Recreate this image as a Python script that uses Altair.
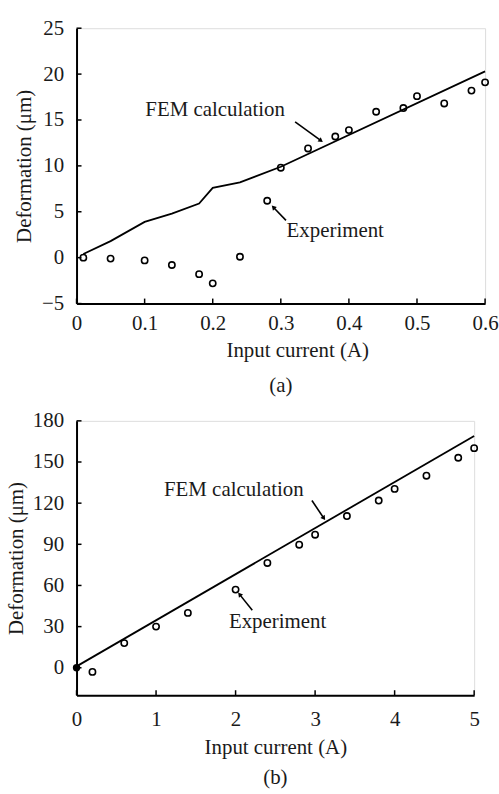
import altair as alt
import pandas as pd

FONT = "Liberation Serif"
INK = "#1a1a1a"

# ---------- panel (a) ----------
a_exp_x = [0.01, 0.05, 0.10, 0.14, 0.18, 0.20, 0.24, 0.28, 0.30, 0.34, 0.38, 0.40, 0.44, 0.48, 0.50, 0.54, 0.58, 0.60]
a_exp_y = [0.0, -0.1, -0.3, -0.8, -1.8, -2.8, 0.1, 6.2, 9.8, 11.9, 13.2, 13.9, 15.9, 16.3, 17.6, 16.8, 18.2, 19.1]
a_fem_x = [0.01, 0.05, 0.10, 0.14, 0.18, 0.20, 0.24, 0.30, 0.60]
a_fem_y = [0.4, 1.8, 3.9, 4.8, 5.9, 7.6, 8.2, 9.9, 20.3]
a_xticks = [0, 0.1, 0.2, 0.3, 0.4, 0.5, 0.6]
a_yticks = [-5, 0, 5, 10, 15, 20, 25]
a_labels = ["FEM calculation", "Experiment"]
a_label_x = [0.101, 0.3085]
a_label_y = [15.4, 2.3]
a_arrow_x = [0.321, 0.3076]
a_arrow_y = [14.8, 4.06]
a_arrow_x2 = [0.359, 0.289]
a_arrow_y2 = [12.75, 5.5]
a_arrow_ang = [126.6, 317.0]

# ---------- panel (b) ----------
b_exp_x = [0.2, 0.6, 1.0, 1.4, 2.0, 2.4, 2.8, 3.0, 3.4, 3.8, 4.0, 4.4, 4.8, 5.0]
b_exp_y = [-3, 18, 30, 40, 57, 76.4, 89.7, 97, 110.6, 121.9, 130.4, 140, 153.1, 160.1]
b_origin_x = [0]
b_origin_y = [0]
b_fem_x = [0, 5]
b_fem_y = [1, 169]
b_xticks = [0, 1, 2, 3, 4, 5]
b_yticks = [0, 30, 60, 90, 120, 150, 180]
b_labels = ["FEM calculation", "Experiment"]
b_label_x = [1.10, 1.916]
b_label_y = [125.5, 29.2]
b_arrow_x = [2.96, 2.21]
b_arrow_y = [121.9, 41.9]
b_arrow_x2 = [3.11, 2.05]
b_arrow_y2 = [109.0, 53.5]
b_arrow_ang = [145.0, 320.7]


def panel(exp_x, exp_y, fem_x, fem_y, xticks, yticks, xdom, ydom,
          labels, lx, ly, ax, ay, ax2, ay2, aang, caption,
          W, H, x_label_pad, x_title_pad, x_title_x, y_title_pad, cap_offset,
          origin=None):
    xs = alt.Scale(domain=xdom, nice=False, zero=False)
    ys = alt.Scale(domain=ydom, nice=False, zero=False)
    xaxis = alt.Axis(title="Input current (A)", values=xticks, format="~f",
                     ticks=False, grid=False, domainColor="black", domainWidth=2,
                     labelFont=FONT, labelFontSize=21, labelColor=INK,
                     labelPadding=x_label_pad, titleFont=FONT, titleFontSize=21,
                     titleFontWeight="normal", titleColor=INK,
                     titlePadding=x_title_pad, titleX=x_title_x, labelFlush=False)
    yaxis = alt.Axis(title="Deformation (μm)", values=yticks, format="~f",
                     ticks=False, grid=False, domainColor="black", domainWidth=2,
                     labelFont=FONT, labelFontSize=21, labelColor=INK,
                     labelPadding=13, titleFont=FONT, titleFontSize=21,
                     titleFontWeight="normal", titleColor=INK,
                     titlePadding=y_title_pad, labelFlush=False)

    def X(f="x"):
        return alt.X(f"{f}:Q", scale=xs, axis=xaxis)

    def Y(f="y"):
        return alt.Y(f"{f}:Q", scale=ys, axis=yaxis)

    exp_df = pd.DataFrame({"x": exp_x, "y": exp_y})
    fem_df = pd.DataFrame({"x": fem_x, "y": fem_y})
    xt_df = pd.DataFrame({"x": xticks})
    yt_df = pd.DataFrame({"y": yticks})
    lab_df = pd.DataFrame({"x": lx, "y": ly, "t": labels})
    arr_df = pd.DataFrame({"x": ax, "y": ay, "x2": ax2, "y2": ay2, "ang": aang})

    fem = alt.Chart(fem_df).mark_line(color="black", strokeWidth=1.8).encode(x=X(), y=Y())
    pts = alt.Chart(exp_df).mark_point(shape="circle", filled=False, color="black",
                                       size=40, strokeWidth=1.6, opacity=1).encode(x=X(), y=Y())
    xt = alt.Chart(xt_df).mark_rule(color="black", strokeWidth=1.5).encode(
        x=X(), y=alt.value(H), y2=alt.value(H - 5))
    yt = alt.Chart(yt_df).mark_rule(color="black", strokeWidth=1.5).encode(
        y=Y(), x=alt.value(0), x2=alt.value(5))
    txt = alt.Chart(lab_df).mark_text(font=FONT, fontSize=21, align="left",
                                      baseline="alphabetic", color=INK).encode(
        x=X(), y=Y(), text="t:N")
    arr = alt.Chart(arr_df).mark_rule(color="black", strokeWidth=1.6).encode(
        x=X(), y=Y(), x2="x2:Q", y2="y2:Q")
    heads = alt.Chart(arr_df).mark_point(shape="triangle-up", filled=True, color="black",
                                         size=28, opacity=1).encode(
        x=X("x2"), y=Y("y2"), angle=alt.Angle("ang:Q", scale=None))
    layers = [fem, pts, xt, yt, txt, arr, heads]
    if origin is not None:
        o_df = pd.DataFrame({"x": origin[0], "y": origin[1]})
        layers.append(alt.Chart(o_df).mark_point(shape="circle", filled=True, color="black",
                                                 size=55, opacity=1).encode(x=X(), y=Y()))
    return alt.layer(*layers).properties(
        width=W, height=H,
        title=alt.TitleParams(caption, orient="bottom", font=FONT, fontSize=21,
                              fontWeight="normal", color=INK, offset=cap_offset,
                              frame="group", anchor="middle"))


top = panel(a_exp_x, a_exp_y, a_fem_x, a_fem_y, a_xticks, a_yticks, [0, 0.6], [-5, 25],
            a_labels, a_label_x, a_label_y, a_arrow_x, a_arrow_y, a_arrow_x2, a_arrow_y2,
            a_arrow_ang, "(a)", 411, 277, 9, 6, 222, 7, 15)
bottom = panel(b_exp_x, b_exp_y, b_fem_x, b_fem_y, b_xticks, b_yticks, [0, 5], [-20, 180],
               b_labels, b_label_x, b_label_y, b_arrow_x, b_arrow_y, b_arrow_x2, b_arrow_y2,
               b_arrow_ang, "(b)", 400, 276, 13, 8, 200, 6, 9,
               origin=(b_origin_x, b_origin_y))

chart = alt.vconcat(top, bottom, spacing=12).properties(
    padding={"top": 14, "left": 5, "right": 0, "bottom": 0}
).configure_view(stroke=None).configure(background="white")

chart.save("out.html", embed_options={"renderer": "svg", "actions": False})
